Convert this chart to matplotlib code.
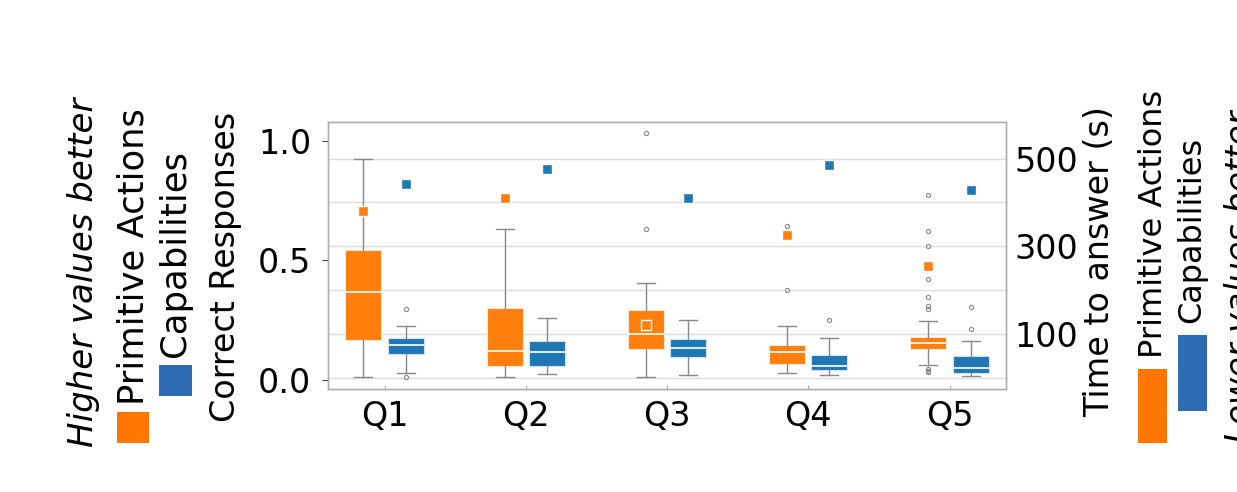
import matplotlib
matplotlib.use('Agg')
import matplotlib.pyplot as plt
from matplotlib.patches import Rectangle

# share of correct responses (left axis, squares)
questions = ['Q1', 'Q2', 'Q3', 'Q4', 'Q5']
correct_pa = [0.707, 0.763, 0.231, 0.605, 0.476]
correct_cap = [0.820, 0.882, 0.759, 0.899, 0.795]

# time to answer in seconds (right axis, boxes)
pa_whislo = [4, 4, 4, 13, 30]
pa_q1 = [87, 28, 66, 32, 66]
pa_med = [197, 63, 101, 59, 80]
pa_q3 = [293, 160, 155, 77, 94]
pa_whishi = [498, 339, 218, 120, 130]
pa_fliers = [[], [], [557, 339], [346, 202],
             [417, 335, 301, 226, 185, 165, 157, 22, 17, 14]]

cap_whislo = [13, 11, 7, 8, 5]
cap_q1 = [56, 28, 48, 19, 12]
cap_med = [76, 59, 70, 28, 24]
cap_q3 = [92, 86, 90, 53, 52]
cap_whishi = [120, 137, 133, 92, 85]
cap_fliers = [[158, 4], [], [], [132], [163, 113]]

ORANGE = '#ff7f0e'
BLUE = '#1f77b4'
W, H = 1237, 492


def stats(lo, q1, med, q3, hi, fl):
    return [dict(whislo=a, q1=b, med=c, q3=d, whishi=e, fliers=f)
            for a, b, c, d, e, f in zip(lo, q1, med, q3, hi, fl)]


def fx(x):
    return x / W


def fy(y):
    return 1 - y / H


fig = plt.figure(figsize=(12.37, 4.92), dpi=100)
ax = fig.add_axes([fx(328), fy(389), fx(1006) - fx(328), fy(122) - fy(389)])
ax2 = ax.twinx()
ax.set_zorder(ax2.get_zorder() + 1)
ax.patch.set_visible(False)

pos = list(range(len(questions)))
off = 0.15
for data, color, sgn in [(stats(pa_whislo, pa_q1, pa_med, pa_q3, pa_whishi, pa_fliers), ORANGE, -1),
                         (stats(cap_whislo, cap_q1, cap_med, cap_q3, cap_whishi, cap_fliers), BLUE, 1)]:
    ax2.bxp(data, positions=[p + sgn * off for p in pos], widths=0.255,
            patch_artist=True, showfliers=True,
            boxprops=dict(facecolor=color, edgecolor='#ffe8d0' if color == ORANGE else '#cfe3f3', linewidth=0.8),
            medianprops=dict(color='white', linewidth=1.2),
            whiskerprops=dict(color='#888888', linewidth=1),
            capprops=dict(color='#888888', linewidth=1),
            flierprops=dict(marker='o', markersize=3, markerfacecolor='none',
                            markeredgecolor='#888888', markeredgewidth=0.8))

ax.plot([p - off for p in pos], correct_pa, 's', color=ORANGE, markersize=7,
        markeredgecolor='white', markeredgewidth=1, zorder=5)
ax.plot([p + off for p in pos], correct_cap, 's', color=BLUE, markersize=7,
        markeredgecolor='white', markeredgewidth=1, zorder=5)

ax.set_xlim(-0.4, 4.4)
ax.set_ylim(-0.038, 1.079)
ax2.set_ylim(-24, 583)

ax.set_xticks(pos)
ax.set_xticklabels(questions, fontsize=24)
ax.set_yticks([0.0, 0.5, 1.0])
ax.set_yticklabels(['0.0', '0.5', '1.0'], fontsize=24)
ax.tick_params(axis='y', length=4, color='#444444', pad=8)
ax.tick_params(axis='x', length=3, direction='in', color='#aaaaaa', pad=8)

ax2.set_yticks([0, 100, 200, 300, 400, 500])
ax2.set_yticklabels(['', '100', '', '300', '', '500'], fontsize=24)
ax2.tick_params(axis='y', length=0, pad=6)
ax2.grid(axis='y', color='#dddddd', linewidth=1)
ax2.set_axisbelow(True)

for a in (ax, ax2):
    for s in a.spines.values():
        s.set_color('#b0b0b0')
        s.set_linewidth(1)

# axis titles
fig.text(fx(226), fy(267), 'Correct Responses', rotation=90, fontsize=24,
         ha='center', va='center')
fig.text(fx(1100), fy(262), 'Time to answer (s)', rotation=90, fontsize=24,
         ha='center', va='center')

# left legend
fig.text(fx(84), fy(447), 'Higher values better', rotation=90, fontsize=24.5,
         style='italic', ha='center', va='bottom')
fig.text(fx(134), fy(405), 'Primitive Actions', rotation=90, fontsize=25.5,
         ha='center', va='bottom')
fig.text(fx(175), fy(357), 'Capabilities', rotation=90, fontsize=25.5,
         ha='center', va='bottom')
fig.add_artist(Rectangle((fx(117), fy(443)), fx(32), 31 / H, transform=fig.transFigure,
                         facecolor='#ff7700', edgecolor='none'))
fig.add_artist(Rectangle((fx(159), fy(396)), fx(33), 31 / H, transform=fig.transFigure,
                         facecolor='#2d6bb5', edgecolor='none'))

# right legend
fig.text(fx(1153), fy(358), 'Primitive Actions', rotation=90, fontsize=23,
         ha='center', va='bottom')
fig.text(fx(1192), fy(323), 'Capabilities', rotation=90, fontsize=23,
         ha='center', va='bottom')
fig.text(fx(1224), fy(443), 'Lower values better', rotation=90, fontsize=24,
         style='italic', ha='left', va='bottom')
fig.add_artist(Rectangle((fx(1138), fy(443)), fx(29), 74 / H, transform=fig.transFigure,
                         facecolor='#ff7700', edgecolor='none'))
fig.add_artist(Rectangle((fx(1178), fy(411)), fx(29), 76 / H, transform=fig.transFigure,
                         facecolor='#2d6bb5', edgecolor='none'))

fig.savefig('out.png', dpi=100)
